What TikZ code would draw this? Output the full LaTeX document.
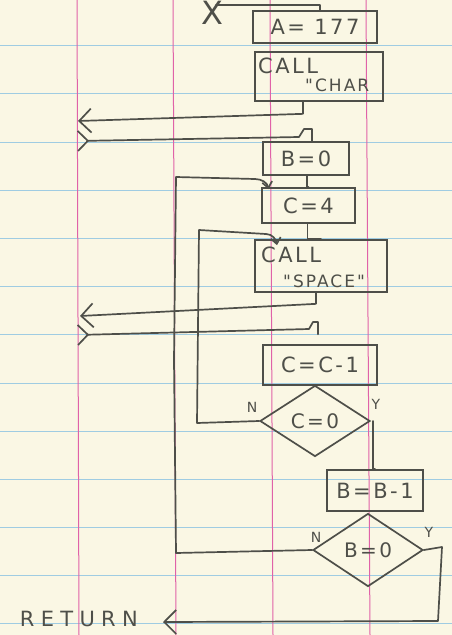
\documentclass[tikz,border=0pt]{standalone}
\usepackage{fontspec}
\newfontfamily\hand[LetterSpace=12]{DejaVu Sans}
\usetikzlibrary{shapes.geometric,arrows.meta,calc}
\definecolor{paper}{HTML}{FAF7E4}
\definecolor{rulecol}{HTML}{9FCCE2}
\definecolor{margincol}{HTML}{E062A8}
\definecolor{pencil}{HTML}{4E4F49}
\tikzset{
  conn/.style={draw=pencil, line width=1.7pt, line join=round, line cap=round},
  box/.style={draw=pencil, line width=1.7pt, rectangle, inner sep=0pt, text=pencil,
    font=\hand\fontsize{21}{21}\selectfont},
  dia/.style={draw=pencil, line width=1.7pt, diamond, inner sep=0pt, text=pencil,
    font=\hand\fontsize{20}{20}\selectfont},
  txt/.style={text=pencil, inner sep=0pt, font=\hand\fontsize{21}{21}\selectfont},
  small/.style={text=pencil, inner sep=0pt, font=\hand\fontsize{17}{17}\selectfont},
  lbl/.style={text=pencil, inner sep=0pt, font=\hand\fontsize{14}{14}\selectfont},
  bigtip/.style={-{Straight Barb[length=12pt,width=24pt]}},
  hooktip/.style={-{Straight Barb[length=6pt,width=10pt]}},
  intip/.style={{Straight Barb[reversed,length=10pt,width=20pt]}-},
}
\begin{document}
\begin{tikzpicture}[x=1pt,y=-1pt]
\useasboundingbox (0,0) rectangle (452,635);
\fill[paper] (0,0) rectangle (452,635);
% ruled paper
\foreach \yy in {45.5,93.5,142.5,190.5,238.5,286.5,334.5,383.5,431.5,479.5,527.5,575.5,623.5}{
  \draw[rulecol, line width=1.1pt] (0,\yy) -- (452,\yy);
}
\draw[margincol, line width=1pt] (77,0) -- (79,635);
\draw[margincol, line width=1pt] (173,0) -- (176,635);
\draw[margincol, line width=1pt] (270,0) -- (273,635);
\draw[margincol, line width=1pt] (366,0) -- (370,635);

% nodes
\node[txt, font=\hand\fontsize{32}{32}\selectfont] (start) at (212,13) {X};
\node[box, minimum width=124pt, minimum height=32pt] (A) at (315,27) {A= 177};
\node[box, minimum width=128pt, minimum height=49pt] (CHAR) at (319,76.5) {};
\node[txt, anchor=west] (chart1) at (258,66) {CALL};
\node[small, anchor=west] (chart2) at (305,85) {"CHAR};
\node[box, minimum width=86pt, minimum height=33pt] (B0) at (306,158.5) {B=0};
\node[box, minimum width=93pt, minimum height=35pt] (C4) at (308.5,205.5) {C=4};
\node[box, minimum width=132pt, minimum height=52pt] (SPACE) at (321,266) {};
\node[txt, anchor=west] (spat1) at (261,255) {CALL};
\node[small, anchor=west] (spat2) at (283,281) {"SPACE"};
\node[box, minimum width=114pt, minimum height=40pt] (CC1) at (320,365) {C=C-1};
\node[dia, minimum width=110pt, minimum height=71pt] (C0) at (315,421) {C=0};
\node[box, minimum width=96pt, minimum height=41pt] (BB1) at (375,490.5) {B=B-1};
\node[dia, minimum width=110pt, minimum height=73pt] (B0d) at (368,550) {B=0};
\node[txt, anchor=east, font=\hand\addfontfeatures{LetterSpace=30}\fontsize{21}{21}\selectfont] (ret) at (138,619) {RETURN};

\node[lbl] (nC0) at (252,407) {N};
\node[lbl] (yC0) at (376,404) {Y};
\node[lbl] (nB0) at (316,537) {N};
\node[lbl] (yB0) at (429,532) {Y};

\coordinate (s0) at (216,5);
\coordinate (r1) at (78,121);
\coordinate (i1) at (77,141);
\coordinate (r2) at (80,316);
\coordinate (i2) at (77,335);

% connectors
\draw[conn] (s0) -| ([xshift=5]A.north);
\draw[conn, bigtip] ([xshift=-16]CHAR.south) -- ++(0,12) -- (r1);
\draw[conn, intip] (i1) -- (299,137) -- (304,129) -| ([xshift=6]B0.north);
\draw[conn] ([xshift=1]B0.south) |- (C4.north);
\draw[conn] ([xshift=-1]C4.south) |- (SPACE.north);
\draw[conn, bigtip] ([xshift=-5]SPACE.south) -- ++(0,11) -- (r2);
\draw[conn, intip] (i2) -- (309,329) -- (313,322) -| ($(CC1.north)+(-2,-10)$);
\draw[conn, hooktip] (C0.west) -- (197,423) -- (199,230) -- (266,234)
   to[out=0,in=100] ($(SPACE.north)+(-44,6)$);
\draw[conn] ([xshift=2]C0.east) |- (BB1.north);
\draw[conn, hooktip] (B0d.west) -- (176,553) -- (174,360) -- (176,177) -- (255,179)
   to[out=0,in=100] ($(C4.north)+(-40,2)$);
\draw[conn, bigtip] (B0d.east) -- (442,547) -- (438,621) -- ($(ret.east)+(25,3)$);
\end{tikzpicture}
\end{document}
